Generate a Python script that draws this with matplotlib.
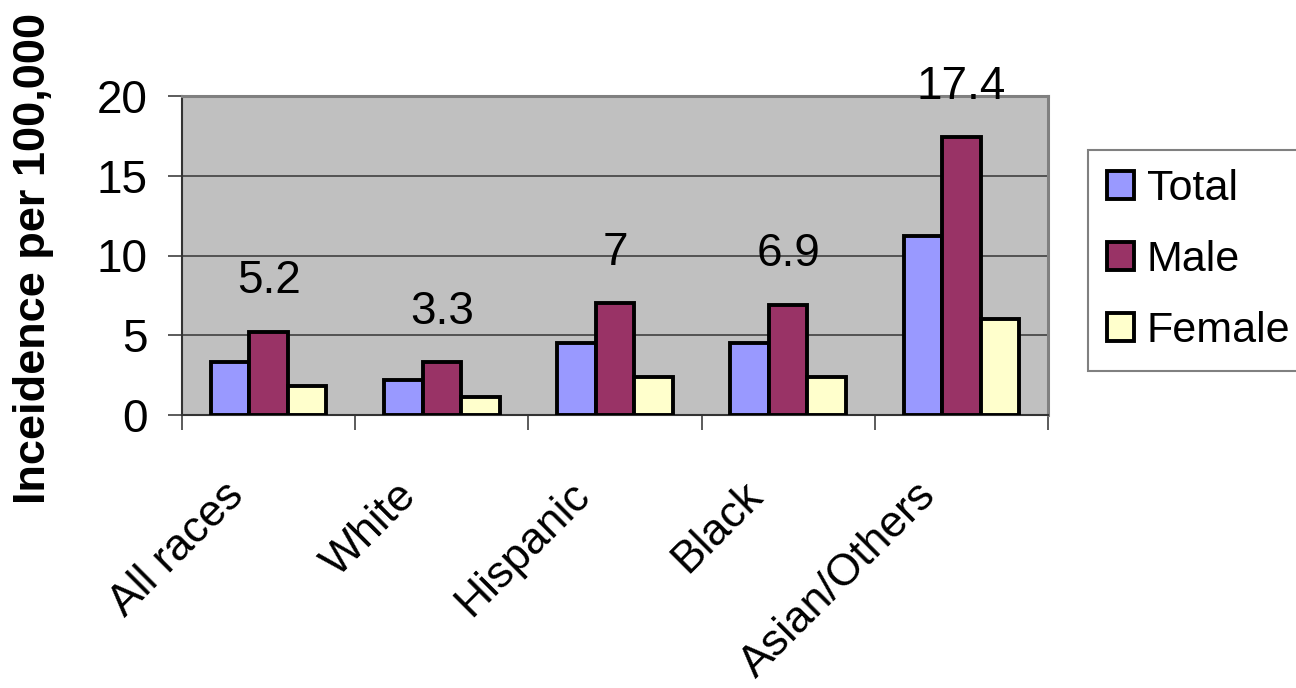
import numpy as np
import matplotlib
matplotlib.use("Agg")
import matplotlib.pyplot as plt
import matplotlib.transforms as mtransforms
from matplotlib.patches import Patch

# incidence per 100,000 by race, split total / male / female
categories = ["All races", "White", "Hispanic", "Black", "Asian/Others"]
total = [3.3, 2.2, 4.5, 4.5, 11.2]
male = [5.2, 3.3, 7.0, 6.9, 17.4]
female = [1.8, 1.1, 2.4, 2.4, 6.0]
series_names = ["Total", "Male", "Female"]
colors = ["#9999FF", "#993366", "#FFFFCC"]

plt.rcParams['font.family'] = ['Liberation Sans', 'DejaVu Sans']
FS = 33

fig = plt.figure(figsize=(12.96, 6.88), dpi=100)
ax = fig.add_axes([182/1296, 1 - 415/688, (1048-182)/1296, (415-96)/688])
ax.set_facecolor("#C0C0C0")

x = np.arange(len(categories))
w = 1 / 4.5
for i, (vals, col) in enumerate(zip([total, male, female], colors)):
    ax.bar(x + (i - 1) * w, vals, width=w, color=col, edgecolor="black",
           linewidth=2.8, zorder=3)

# value labels above the male bars
for xi, v in zip(x, male):
    ax.annotate(f"{v:g}", xy=(xi, v), xytext=(0, 36.5), textcoords="offset points",
                ha="center", va="center", fontsize=FS, zorder=4)

ax.set_xlim(-0.5, len(categories) - 0.5)
ax.set_ylim(0, 20)
ax.set_yticks([0, 5, 10, 15, 20])
ax.yaxis.grid(True, color="#404040", linewidth=1.2, zorder=1)
ax.set_axisbelow(True)

ax.tick_params(axis="y", labelsize=FS, length=10, width=1.2, color="#404040",
               direction="out", pad=15)
ax.set_xticks(x)
ax.set_xticklabels(categories, rotation=45, ha="right", va="top", fontsize=32)
ax.tick_params(axis="x", which="major", length=0, pad=43)
ax.set_xticks(np.arange(-0.5, len(categories)), minor=True)
ax.tick_params(axis="x", which="minor", length=11, width=1.2, color="#404040",
               direction="out")

shift = mtransforms.ScaledTranslation(-17/100, 0, fig.dpi_scale_trans)
for lab in ax.get_xticklabels():
    lab.set_transform(lab.get_transform() + shift)

for side in ["top", "right"]:
    ax.spines[side].set_color("#808080")
    ax.spines[side].set_linewidth(2.2)
for side in ["left", "bottom"]:
    ax.spines[side].set_color("#333333")
    ax.spines[side].set_linewidth(1.5)

fig.text(34/1296, 1 - 258/688, "Inceidence per 100,000", rotation=90,
         fontsize=32.5, fontweight="bold", ha="center", va="center")

handles = [Patch(facecolor=c, edgecolor="black", linewidth=2.8) for c in colors]
leg = fig.legend(handles, series_names, loc="upper left",
                 bbox_to_anchor=(1088/1296, 1 - 150/688),
                 bbox_transform=fig.transFigure, borderaxespad=0,
                 fontsize=31, frameon=True, fancybox=False, framealpha=1,
                 handlelength=0.62, handleheight=0.64, handletextpad=0.3,
                 borderpad=0.45, labelspacing=0.72)
leg.get_frame().set_edgecolor("#808080")
leg.get_frame().set_linewidth(1.5)

fig.savefig("out.png", dpi=100)
